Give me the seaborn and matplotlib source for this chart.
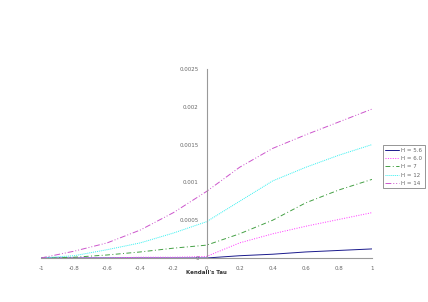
import matplotlib
matplotlib.use("Agg")
import matplotlib.pyplot as plt
import seaborn as sns
import pandas as pd
import numpy as np

tau = [-1.0, -0.8, -0.6, -0.4, -0.2, 0.0, 0.2, 0.4, 0.6, 0.8, 1.0]
h56 = [0.0, 0.0, 0.0, 0.0, 0.0, 0.0, 0.00003, 0.00005, 0.00008, 0.0001, 0.00012]
h60 = [0.0, 0.0, 0.0, 0.00001, 0.00001, 0.00002, 0.0002, 0.00032, 0.00042, 0.00051, 0.0006]
h7 = [0.0, 0.00001, 0.00004, 0.00008, 0.00013, 0.00017, 0.00032, 0.0005, 0.00073, 0.0009, 0.00104]
h12 = [0.0, 0.00003, 0.00011, 0.0002, 0.00033, 0.00048, 0.00075, 0.00102, 0.0012, 0.00136, 0.0015]
h14 = [0.0, 0.00009, 0.0002, 0.00037, 0.0006, 0.00088, 0.0012, 0.00145, 0.00163, 0.0018, 0.00197]
labels = ["H = 5.6", "H = 6.0", "H = 7", "H = 12", "H = 14"]
xticks = [-1, -0.8, -0.6, -0.4, -0.2, 0, 0.2, 0.4, 0.6, 0.8, 1]
xticklabels = ["-1", "-0.8", "-0.6", "-0.4", "-0.2", "0", "0.2", "0.4", "0.6", "0.8", "1"]
yticks = [0, 0.0005, 0.001, 0.0015, 0.002, 0.0025]
yticklabels = ["0", "0.0005", "0.001", "0.0015", "0.002", "0.0025"]

series = [h56, h60, h7, h12, h14]
df = pd.concat([pd.DataFrame({"tau": tau, "v": s, "H": lab}) for s, lab in zip(series, labels)])

sns.set_style("white")
plt.rcParams['font.family'] = ['DejaVu Sans']

fig = plt.figure(figsize=(4.28, 3.02), dpi=100)
ax = fig.add_axes([41/428, 1-258/302, 331/428, 189/302])

colors = ["#1A1A8C", "#FF33FF", "#44A044", "#33F0F0", "#CC55CC"]
styles = ["-", (0, (1, 1.5)), (0, (5, 2.5, 1, 2.5)), (0, (1, 1)), (0, (6, 2, 1, 2, 1, 2))]
for s, lab, c, ls in zip(series, labels, colors, styles):
    d = df[df["H"] == lab]
    sns.lineplot(data=d, x="tau", y="v", ax=ax, color=c, linestyle=ls, linewidth=0.7, label=lab)

ax.set_xlim(-1, 1)
ax.set_ylim(0, 0.0025)
ax.spines["left"].set_position(("data", 0))
ax.spines["right"].set_visible(False)
ax.spines["top"].set_visible(False)
for sp in ["left", "bottom"]:
    ax.spines[sp].set_color("#999999")
    ax.spines[sp].set_linewidth(0.8)
ax.set_xticks(xticks)
ax.set_xticklabels(xticklabels)
ax.set_yticks(yticks)
ax.set_yticklabels(yticklabels)
ax.tick_params(axis="both", labelsize=4, colors="#777777", length=2, width=0.6, direction="out")
ax.tick_params(axis="both", labelcolor="#666666")
ax.set_ylabel("")
ax.set_xlabel("Kendall's Tau", fontsize=4, fontweight="bold", color="#333333")
ax.xaxis.set_label_coords(0.5, -0.065)

leg = ax.legend(loc="upper left", bbox_to_anchor=(1.025, 0.61), fontsize=4, frameon=True,
                fancybox=False, edgecolor="#666666", handlelength=2.5, borderpad=0.4,
                labelspacing=0.6, handletextpad=0.4)
leg.get_frame().set_linewidth(0.6)
for t in leg.get_texts():
    t.set_color("#666666")

fig.savefig("out.png", dpi=100)
